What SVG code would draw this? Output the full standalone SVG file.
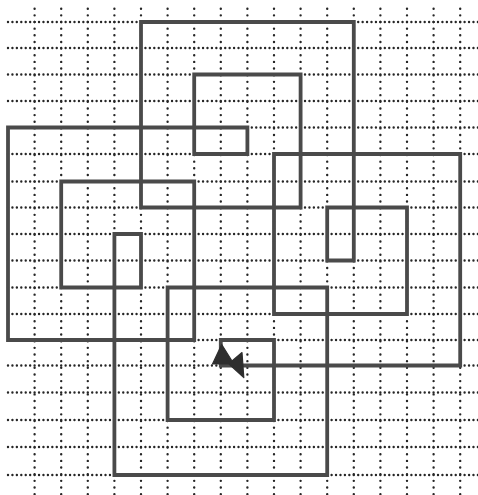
<svg xmlns="http://www.w3.org/2000/svg" width="478" height="495" viewBox="0 0 478 495">
<style>
.h{stroke:#262626;stroke-width:2.4;stroke-linecap:round;stroke-dasharray:0 4.433;fill:none}
.v{stroke:#262626;stroke-width:2.4;stroke-linecap:round;stroke-dasharray:0 6.65;fill:none}
.trail{stroke:#4a4a4a;stroke-width:3.8;fill:none;stroke-linejoin:miter;stroke-linecap:square}
.turtle{fill:#2e2e2e;stroke:#2e2e2e;stroke-width:1.2;stroke-linejoin:round}
</style>
<rect width="478" height="495" fill="#ffffff"/>
<g id="grid">
<g id="rows">
<line class="h" x1="8" y1="22" x2="478" y2="22"/>
<line class="h" x1="8" y1="48" x2="478" y2="48"/>
<line class="h" x1="8" y1="74.5" x2="478" y2="74.5"/>
<line class="h" x1="8" y1="101" x2="478" y2="101"/>
<line class="h" x1="8" y1="127.5" x2="478" y2="127.5"/>
<line class="h" x1="8" y1="154" x2="478" y2="154"/>
<line class="h" x1="8" y1="181.5" x2="478" y2="181.5"/>
<line class="h" x1="8" y1="207.5" x2="478" y2="207.5"/>
<line class="h" x1="8" y1="234" x2="478" y2="234"/>
<line class="h" x1="8" y1="260.5" x2="478" y2="260.5"/>
<line class="h" x1="8" y1="287.5" x2="478" y2="287.5"/>
<line class="h" x1="8" y1="314" x2="478" y2="314"/>
<line class="h" x1="8" y1="340" x2="478" y2="340"/>
<line class="h" x1="8" y1="365.5" x2="478" y2="365.5"/>
<line class="h" x1="8" y1="392.5" x2="478" y2="392.5"/>
<line class="h" x1="8" y1="420" x2="478" y2="420"/>
<line class="h" x1="8" y1="447" x2="478" y2="447"/>
<line class="h" x1="8" y1="475" x2="478" y2="475"/>
</g>
<g id="cols">
<line class="v" x1="34.6" y1="8.7" x2="34.6" y2="495"/>
<line class="v" x1="61.2" y1="8.7" x2="61.2" y2="495"/>
<line class="v" x1="87.8" y1="8.7" x2="87.8" y2="495"/>
<line class="v" x1="114.4" y1="8.7" x2="114.4" y2="495"/>
<line class="v" x1="141" y1="8.7" x2="141" y2="495"/>
<line class="v" x1="167.6" y1="8.7" x2="167.6" y2="495"/>
<line class="v" x1="194.2" y1="8.7" x2="194.2" y2="495"/>
<line class="v" x1="220.8" y1="8.7" x2="220.8" y2="495"/>
<line class="v" x1="247.4" y1="8.7" x2="247.4" y2="495"/>
<line class="v" x1="274" y1="8.7" x2="274" y2="495"/>
<line class="v" x1="300.6" y1="8.7" x2="300.6" y2="495"/>
<line class="v" x1="327.2" y1="8.7" x2="327.2" y2="495"/>
<line class="v" x1="353.8" y1="8.7" x2="353.8" y2="495"/>
<line class="v" x1="380.4" y1="8.7" x2="380.4" y2="495"/>
<line class="v" x1="407" y1="8.7" x2="407" y2="495"/>
<line class="v" x1="433.6" y1="8.7" x2="433.6" y2="495"/>
<line class="v" x1="460.2" y1="8.7" x2="460.2" y2="495"/>
</g>
</g>
<g id="connectors">
<polyline class="trail" points="220.8,365.5 220.8,340 274,340 274,420 167.6,420 167.6,287.5 327.2,287.5 327.2,475 114.4,475 114.4,234 141,234 141,287.5 61.2,287.5 61.2,181.5 194.2,181.5 194.2,340 8,340 8,127.5 247.4,127.5 247.4,154 194.2,154 194.2,74.5 300.6,74.5 300.6,207.5 141,207.5 141,22 353.8,22 353.8,260.5 327.2,260.5 327.2,207.5 407,207.5 407,314 274,314 274,154 460.2,154 460.2,365.5 220.8,365.5"/>
</g>
<g id="turtle">
<polygon class="turtle" points="221.7,344.5 212.5,364 229,364 243.8,377.5 242,352.5 232,361"/>
</g>
</svg>
